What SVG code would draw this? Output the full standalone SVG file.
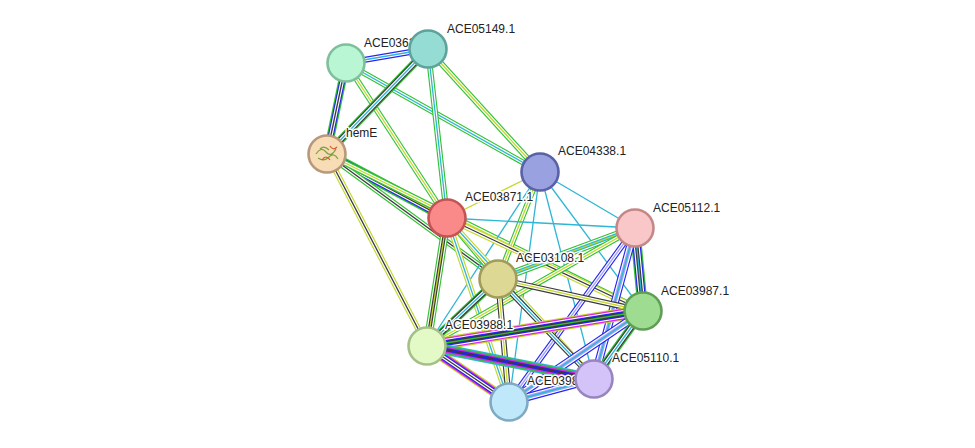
<svg xmlns="http://www.w3.org/2000/svg" width="975" height="448" viewBox="0 0 975 448">
<style>
line{stroke-linecap:butt}
.w1{stroke-width:1.3}.w3{stroke-width:3.6}.w5{stroke-width:5.9}.w7{stroke-width:8.2}.w9{stroke-width:10.5}.w11{stroke-width:12.8}
.g{stroke:#33c233}.y{stroke:#c5d82c}.c{stroke:#2db6d6}.k{stroke:#3a3a3a}.b{stroke:#2626f0}.p{stroke:#a2a2f5}.m{stroke:#e025e0}
.wh{stroke:#fff}
.n{stroke-width:2.6}
text{font-family:"Liberation Sans",Arial,sans-serif;font-size:12px;fill:#222;stroke:#fff;stroke-width:3;paint-order:stroke;stroke-linejoin:round}
</style>
<rect width="975" height="448" fill="#fff"/>
<g id="edges" fill="none">
<!-- pattern: layered concentric strokes -->
<g><line x1="346" y1="63" x2="428" y2="49" class="w5 b"/><line x1="346" y1="63" x2="428" y2="49" class="w3 wh"/><line x1="346" y1="63" x2="428" y2="49" class="w1 c"/></g>
<g><line x1="346" y1="63" x2="327" y2="154" class="w7 g"/><line x1="346" y1="63" x2="327" y2="154" class="w5 b"/><line x1="346" y1="63" x2="327" y2="154" class="w3 wh"/><line x1="346" y1="63" x2="327" y2="154" class="w1 k"/></g>
<g><line x1="346" y1="63" x2="447" y2="218" class="w5 g"/><line x1="346" y1="63" x2="447" y2="218" class="w3 wh"/><line x1="346" y1="63" x2="447" y2="218" class="w1 y"/></g>
<g><line x1="346" y1="63" x2="540" y2="172" class="w5 g"/><line x1="346" y1="63" x2="540" y2="172" class="w3 wh"/><line x1="346" y1="63" x2="540" y2="172" class="w1 c"/></g>
<g><line x1="428" y1="49" x2="327" y2="154" class="w7 g"/><line x1="428" y1="49" x2="327" y2="154" class="w5 k"/><line x1="428" y1="49" x2="327" y2="154" class="w3 wh"/><line x1="428" y1="49" x2="327" y2="154" class="w1 c"/></g>
<g><line x1="428" y1="49" x2="447" y2="218" class="w5 g"/><line x1="428" y1="49" x2="447" y2="218" class="w3 wh"/><line x1="428" y1="49" x2="447" y2="218" class="w1 c"/></g>
<g><line x1="428" y1="49" x2="540" y2="172" class="w5 g"/><line x1="428" y1="49" x2="540" y2="172" class="w3 wh"/><line x1="428" y1="49" x2="540" y2="172" class="w1 y"/></g>
<g><line x1="327" y1="154" x2="447" y2="218" class="w9 g"/><line x1="327" y1="154" x2="447" y2="218" class="w7 b"/><line x1="327" y1="154" x2="447" y2="218" class="w5 wh"/><line x1="327" y1="154" x2="447" y2="218" class="w3 k"/><line x1="327" y1="154" x2="447" y2="218" class="w1 y"/></g>
<g><line x1="327" y1="154" x2="498" y2="279" class="w5 g"/><line x1="327" y1="154" x2="498" y2="279" class="w3 wh"/><line x1="327" y1="154" x2="498" y2="279" class="w1 k"/></g>
<g><line x1="327" y1="154" x2="427" y2="346" class="w5 y"/><line x1="327" y1="154" x2="427" y2="346" class="w3 wh"/><line x1="327" y1="154" x2="427" y2="346" class="w1 k"/></g>
<g><line x1="327" y1="154" x2="643" y2="311" class="w5 g"/><line x1="327" y1="154" x2="643" y2="311" class="w3 wh"/><line x1="327" y1="154" x2="643" y2="311" class="w1 y"/></g>
<g><line x1="540" y1="172" x2="447" y2="218" class="w1 y"/></g>
<g><line x1="540" y1="172" x2="498" y2="279" class="w5 g"/><line x1="540" y1="172" x2="498" y2="279" class="w3 wh"/><line x1="540" y1="172" x2="498" y2="279" class="w1 y"/></g>
<g class="w1 c"><line x1="540" y1="172" x2="635" y2="228"/><line x1="540" y1="172" x2="427" y2="346"/><line x1="540" y1="172" x2="509" y2="402"/><line x1="540" y1="172" x2="594" y2="379"/><line x1="540" y1="172" x2="643" y2="311"/><line x1="447" y1="218" x2="635" y2="228"/></g>
<g><line x1="447" y1="218" x2="498" y2="279" class="w5 g"/><line x1="447" y1="218" x2="498" y2="279" class="w3 wh"/><line x1="447" y1="218" x2="498" y2="279" class="w1 k"/></g>
<g><line x1="447" y1="218" x2="643" y2="311" class="w5 y"/><line x1="447" y1="218" x2="643" y2="311" class="w3 wh"/><line x1="447" y1="218" x2="643" y2="311" class="w1 k"/></g>
<g><line x1="447" y1="218" x2="427" y2="346" class="w7 g"/><line x1="447" y1="218" x2="427" y2="346" class="w5 wh"/><line x1="447" y1="218" x2="427" y2="346" class="w3 k"/><line x1="447" y1="218" x2="427" y2="346" class="w1 y"/></g>
<g><line x1="447" y1="218" x2="509" y2="402" class="w5 y"/><line x1="447" y1="218" x2="509" y2="402" class="w3 wh"/><line x1="447" y1="218" x2="509" y2="402" class="w1 c"/></g>
<g><line x1="447" y1="218" x2="594" y2="379" class="w5 y"/><line x1="447" y1="218" x2="594" y2="379" class="w3 wh"/><line x1="447" y1="218" x2="594" y2="379" class="w1 c"/></g>
<g><line x1="635" y1="228" x2="498" y2="279" class="w7 g"/><line x1="635" y1="228" x2="498" y2="279" class="w5 wh"/><line x1="635" y1="228" x2="498" y2="279" class="w3 c"/><line x1="635" y1="228" x2="498" y2="279" class="w1 y"/></g>
<g><line x1="635" y1="228" x2="643" y2="311" class="w9 g"/><line x1="635" y1="228" x2="643" y2="311" class="w7 b"/><line x1="635" y1="228" x2="643" y2="311" class="w5 wh"/><line x1="635" y1="228" x2="643" y2="311" class="w3 k"/><line x1="635" y1="228" x2="643" y2="311" class="w1 c"/></g>
<g><line x1="635" y1="228" x2="427" y2="346" class="w5 g"/><line x1="635" y1="228" x2="427" y2="346" class="w3 wh"/><line x1="635" y1="228" x2="427" y2="346" class="w1 y"/></g>
<g><line x1="635" y1="228" x2="509" y2="402" class="w5 b"/><line x1="635" y1="228" x2="509" y2="402" class="w3 wh"/><line x1="635" y1="228" x2="509" y2="402" class="w1 p"/></g>
<g><line x1="635" y1="228" x2="594" y2="379" class="w7 b"/><line x1="635" y1="228" x2="594" y2="379" class="w5 wh"/><line x1="635" y1="228" x2="594" y2="379" class="w3 p"/><line x1="635" y1="228" x2="594" y2="379" class="w1 c"/></g>
<g><line x1="498" y1="279" x2="643" y2="311" class="w5 k"/><line x1="498" y1="279" x2="643" y2="311" class="w3 wh"/><line x1="498" y1="279" x2="643" y2="311" class="w1 y"/></g>
<g><line x1="498" y1="279" x2="427" y2="346" class="w7 g"/><line x1="498" y1="279" x2="427" y2="346" class="w5 k"/><line x1="498" y1="279" x2="427" y2="346" class="w3 wh"/><line x1="498" y1="279" x2="427" y2="346" class="w1 c"/></g>
<g><line x1="498" y1="279" x2="509" y2="402" class="w5 k"/><line x1="498" y1="279" x2="509" y2="402" class="w3 wh"/><line x1="498" y1="279" x2="509" y2="402" class="w1 y"/></g>
<g><line x1="498" y1="279" x2="594" y2="379" class="w5 k"/><line x1="498" y1="279" x2="594" y2="379" class="w3 wh"/><line x1="498" y1="279" x2="594" y2="379" class="w1 c"/></g>
<g><line x1="643" y1="311" x2="427" y2="346" class="w11 y"/><line x1="643" y1="311" x2="427" y2="346" class="w9 m"/><line x1="643" y1="311" x2="427" y2="346" class="w7 wh"/><line x1="643" y1="311" x2="427" y2="346" class="w5 b"/><line x1="643" y1="311" x2="427" y2="346" class="w3 k"/><line x1="643" y1="311" x2="427" y2="346" class="w1 g"/></g>
<g><line x1="643" y1="311" x2="509" y2="402" class="w7 b"/><line x1="643" y1="311" x2="509" y2="402" class="w5 wh"/><line x1="643" y1="311" x2="509" y2="402" class="w3 p"/><line x1="643" y1="311" x2="509" y2="402" class="w1 c"/></g>
<g><line x1="643" y1="311" x2="594" y2="379" class="w7 g"/><line x1="643" y1="311" x2="594" y2="379" class="w5 k"/><line x1="643" y1="311" x2="594" y2="379" class="w3 wh"/><line x1="643" y1="311" x2="594" y2="379" class="w1 c"/></g>
<g><line x1="427" y1="346" x2="509" y2="402" class="w9 y"/><line x1="427" y1="346" x2="509" y2="402" class="w7 m"/><line x1="427" y1="346" x2="509" y2="402" class="w5 b"/><line x1="427" y1="346" x2="509" y2="402" class="w3 wh"/><line x1="427" y1="346" x2="509" y2="402" class="w1 k"/></g>
<g><line x1="427" y1="346" x2="594" y2="379" class="w9 c"/><line x1="427" y1="346" x2="594" y2="379" class="w7 g"/><line x1="427" y1="346" x2="594" y2="379" class="w5 m"/><line x1="427" y1="346" x2="594" y2="379" class="w3 b"/><line x1="427" y1="346" x2="594" y2="379" class="w1 k"/></g>
<g><line x1="509" y1="402" x2="594" y2="379" class="w7 b"/><line x1="509" y1="402" x2="594" y2="379" class="w5 wh"/><line x1="509" y1="402" x2="594" y2="379" class="w3 p"/><line x1="509" y1="402" x2="594" y2="379" class="w1 c"/></g>
</g>
<g id="labels">
<text x="364" y="47">ACE0362</text>
<text x="447" y="33">ACE05149.1</text>
<text x="346" y="137">hemE</text>
<text x="558" y="155">ACE04338.1</text>
<text x="465" y="201">ACE03871.1</text>
<text x="653" y="212">ACE05112.1</text>
<text x="516" y="262">ACE03108.1</text>
<text x="661" y="295">ACE03987.1</text>
<text x="445" y="329">ACE03988.1</text>
<text x="612" y="362">ACE05110.1</text>
<text x="527" y="385">ACE0398</text>
</g>
<g id="node-ACE0362"><circle cx="346" cy="63" r="18.5" class="n" fill="#b9f6d4" stroke="#7fbf9c"/></g>
<g id="node-ACE05149"><circle cx="428" cy="49" r="18.5" class="n" fill="#95ddd4" stroke="#5ea39a"/></g>
<g id="node-hemE"><circle cx="327" cy="154" r="18.5" class="n" fill="#f8dcb5" stroke="#b8987a"/>
<path d="M316 154 q5 -8 10 -2 t10 -3 M318 158 q6 4 11 -1 t9 2 M320 149 q4 -4 9 1" fill="none" stroke="#7aa040" stroke-width="1.2"/>
<path d="M322 160 q4 -6 8 0 M330 146 q3 5 7 1" fill="none" stroke="#d05a2a" stroke-width="1.2"/></g>
<g id="node-ACE04338"><circle cx="540" cy="172" r="18.5" class="n" fill="#99a1e0" stroke="#5a62a6"/></g>
<g id="node-ACE03871"><circle cx="447" cy="218" r="18.5" class="n" fill="#fa8a8a" stroke="#c45454"/></g>
<g id="node-ACE05112"><circle cx="635" cy="228" r="18.5" class="n" fill="#f9c7c7" stroke="#c48888"/></g>
<g id="node-ACE03108"><circle cx="498" cy="279" r="18.5" class="n" fill="#ddd995" stroke="#a09c5a"/></g>
<g id="node-ACE03987"><circle cx="643" cy="311" r="18.5" class="n" fill="#9edd91" stroke="#5f9e55"/></g>
<g id="node-ACE03988"><circle cx="427" cy="346" r="18.5" class="n" fill="#e4fac6" stroke="#a5bf88"/></g>
<g id="node-ACE0398x"><circle cx="509" cy="402" r="18.5" class="n" fill="#c0e8fb" stroke="#80aac2"/></g>
<g id="node-ACE05110"><circle cx="594" cy="379" r="18.5" class="n" fill="#d4c3f8" stroke="#9885c0"/></g>
</svg>
